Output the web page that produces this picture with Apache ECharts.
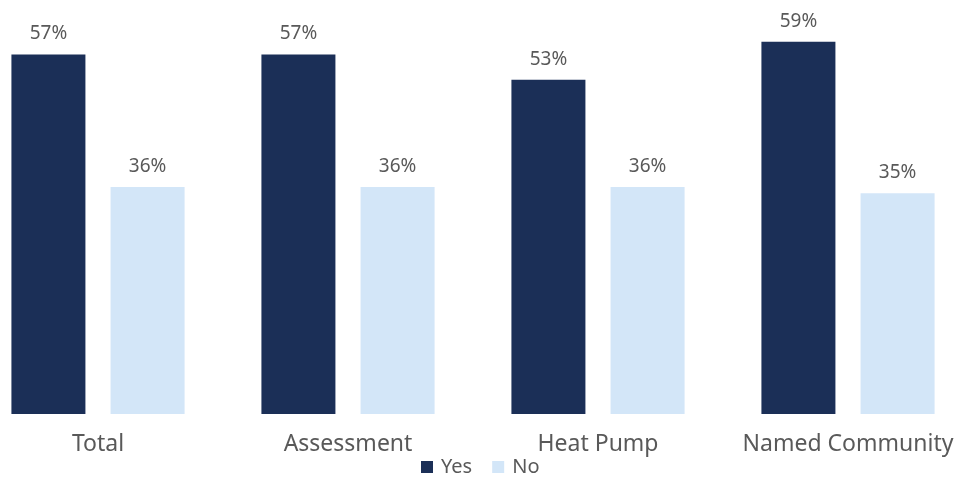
<!DOCTYPE html>
<html>
<head>
<meta charset="utf-8">
<script src="https://cdn.jsdelivr.net/npm/echarts@6/dist/echarts.min.js"></script>
<style>
html,body{margin:0;padding:0;background:#fff;overflow:hidden;width:961px;height:483px;}
#chart{width:1000px;height:483px;margin-left:-27px;}
</style>
</head>
<body>
<div id="chart"></div>
<script>
const categories = ['Total', 'Assessment', 'Heat Pump', 'Named Community'];
const yesValues = [57, 57, 53, 59];
const noValues = [36, 36, 36, 35];
const seriesNames = ['Yes', 'No'];

const chart = echarts.init(document.getElementById('chart'));
const labelStyle = {
  show: true,
  position: 'top',
  distance: 11,
  formatter: p => p.value + '%',
  color: '#595959',
  fontSize: 19,
  fontFamily: 'Noto Sans'
};
chart.setOption({
  animation: false,
  textStyle: { fontFamily: 'Noto Sans' },
  grid: { left: 0, right: 0, top: 4, bottom: 69, containLabel: false },
  legend: {
    data: seriesNames,
    bottom: 1,
    left: 443,
    icon: 'rect',
    itemWidth: 12,
    itemHeight: 12,
    itemGap: 20,
    textStyle: { color: '#595959', fontSize: 20, fontFamily: 'Noto Sans', padding: [0, 0, 0, 3] }
  },
  xAxis: {
    type: 'category',
    data: categories,
    axisLine: { show: false },
    axisTick: { show: false },
    axisLabel: { color: '#595959', fontSize: 23, margin: 19, interval: 0, hideOverlap: false, fontFamily: 'Noto Sans' }
  },
  yAxis: {
    type: 'value',
    min: 0,
    max: 65,
    show: false,
    splitLine: { show: false }
  },
  series: [
    {
      name: seriesNames[0],
      type: 'bar',
      data: yesValues,
      barWidth: 74,
      barGap: '34%',
      itemStyle: { color: '#1B2F57' },
      label: labelStyle
    },
    {
      name: seriesNames[1],
      type: 'bar',
      data: noValues,
      barWidth: 74,
      barGap: '34%',
      itemStyle: { color: '#D3E6F8' },
      label: labelStyle
    }
  ]
});
</script>
</body>
</html>
